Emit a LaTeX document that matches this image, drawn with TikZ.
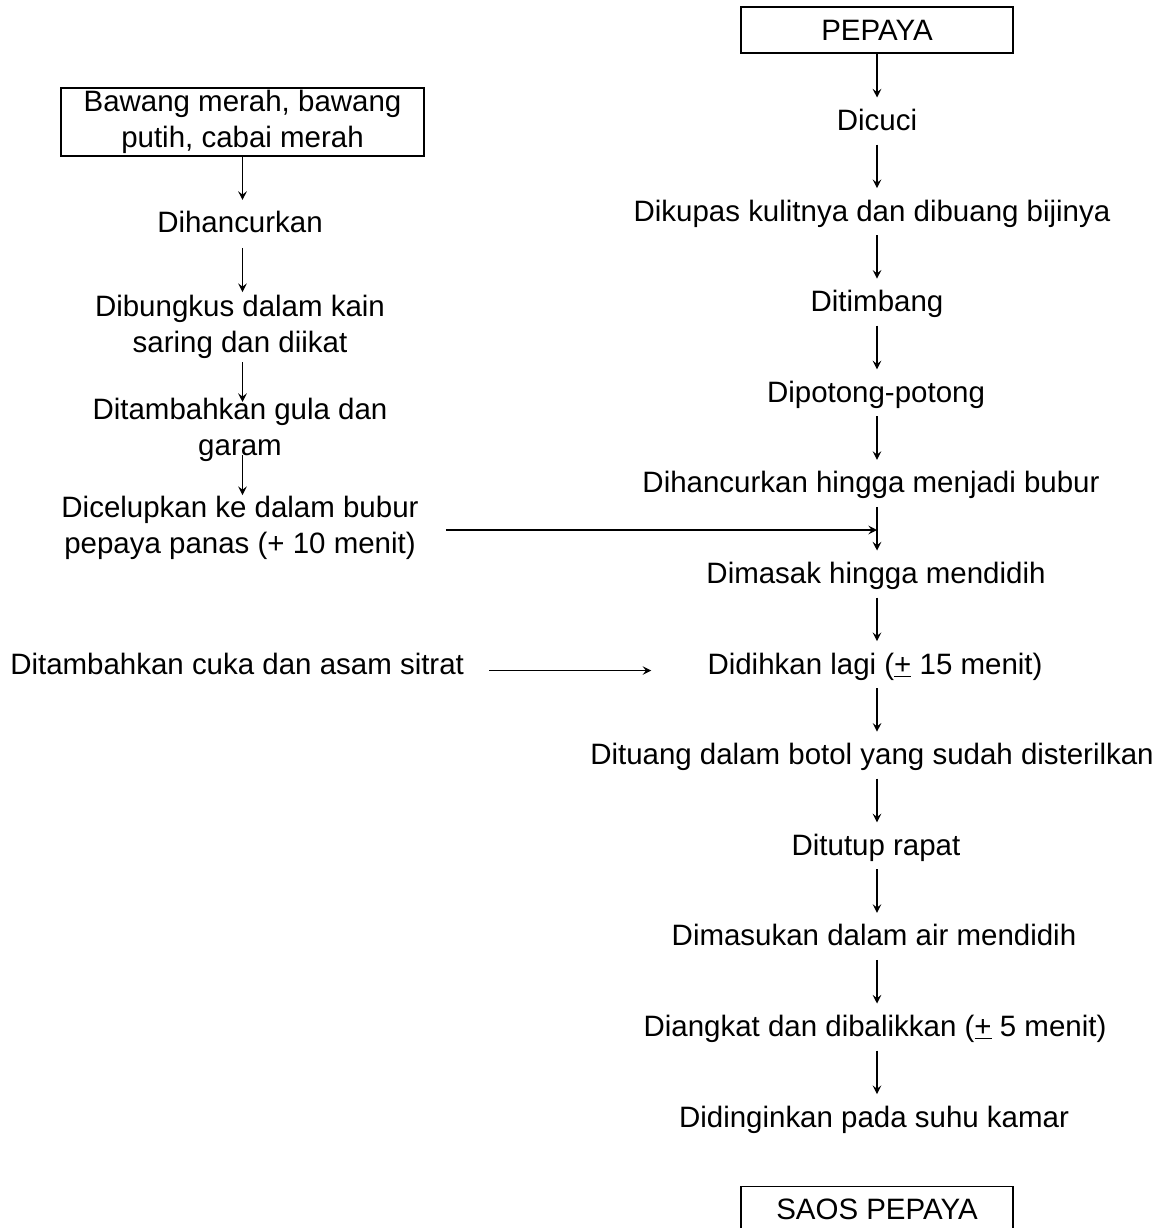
\documentclass[tikz,border=0pt]{standalone}
\usepackage{fontspec}
\setmainfont{Liberation Sans}
\usetikzlibrary{arrows.meta}
\begin{document}
\begin{tikzpicture}[x=0.75pt,y=-0.75pt,
  every node/.style={inner sep=0pt, font=\fontsize{22.1}{27}\selectfont},
  txt/.style={anchor=base},
  two/.style={align=center, anchor=center},
  frame/.style={draw, line width=1pt, minimum width=204pt, minimum height=34.5pt},
  arr/.style={line width=0.95pt, -{Stealth[length=6.5pt,width=6.5pt,inset=2.5pt]}}]
\useasboundingbox (0,0) rectangle (1159,1228);
\fill[white] (0,0) rectangle (1159,1228);
% right column
\node[frame] (pep) at (877,30) {PEPAYA};
\node[txt] (r1) at (877,130.5) {Dicuci};
\node[txt] (r2) at (872,221.1) {Dikupas kulitnya dan dibuang bijinya};
\node[txt] (r3) at (877,311.7) {Ditimbang};
\node[txt] (r4) at (876,402.3) {Dipotong-potong};
\node[txt] (r5) at (871,492.9) {Dihancurkan hingga menjadi bubur};
\node[txt] (r6) at (876,583.5) {Dimasak hingga mendidih};
\node[txt] (r7) at (875,674.1) {Didihkan lagi (\underline{+} 15 menit)};
\node[txt] (r8) at (872,764.7) {Dituang dalam botol yang sudah disterilkan};
\node[txt] (r9) at (876,855.3) {Ditutup rapat};
\node[txt] (r10) at (874,945.9) {Dimasukan dalam air mendidih};
\node[txt] (r11) at (875,1036.5) {Diangkat dan dibalikkan (\underline{+} 5 menit)};
\node[txt] (r12) at (874,1127.1) {Didinginkan pada suhu kamar};
\node[frame, anchor=north] (saos) at (877,1186) {SAOS PEPAYA};
\coordinate (m1) at (877,530);
% left column
\node[frame, align=center, minimum width=272.25pt, minimum height=51pt] (bw) at (242.5,122) {Bawang merah, bawang\\putih, cabai merah};
\node[txt] (l1) at (240,232.5) {Dihancurkan};
\node[two] (l2) at (240,327.25) {Dibungkus dalam kain\\saring dan diikat};
\node[two] (l3) at (240,430.25) {Ditambahkan gula dan\\garam};
\node[two] (l4) at (240,528.25) {Dicelupkan ke dalam bubur\\pepaya panas (+ 10 menit)};
\node[txt, anchor=base west] (cuka) at (10,674.1) {Ditambahkan cuka dan asam sitrat};
% right arrows
\draw[arr, shorten >=24.75pt] (pep.south) -- (r1.base -| pep);
\foreach \a/\b in {r1/r2,r2/r3,r3/r4,r4/r5,r5/r6,r6/r7,r7/r8,r8/r9,r9/r10,r10/r11,r11/r12}
  \draw[arr, shorten <=10.5pt, shorten >=24.75pt] (\a.base -| pep) -- (\b.base -| pep);
% left arrows
\draw[arr, shorten >=24.4pt] (bw.south) -- (l1.base -| bw);
\draw[arr, shorten <=11.6pt, shorten >=26.4pt] (l1.base -| bw) -- (l2.center -| bw);
\draw[arr, shorten <=26.1pt, shorten >=21.2pt] (l2.center -| bw) -- (l3.center -| bw);
\draw[arr, shorten <=18.6pt, shorten >=24.9pt] (l3.center -| bw) -- (l4.center -| bw);
% horizontal arrows
\draw[arr, shorten <=20.25pt] (l4.east |- m1) -- (m1);
\draw[arr, shorten <=18.75pt, shorten >=42pt] (cuka.mid east) -- (r7.mid west);
\end{tikzpicture}
\end{document}
